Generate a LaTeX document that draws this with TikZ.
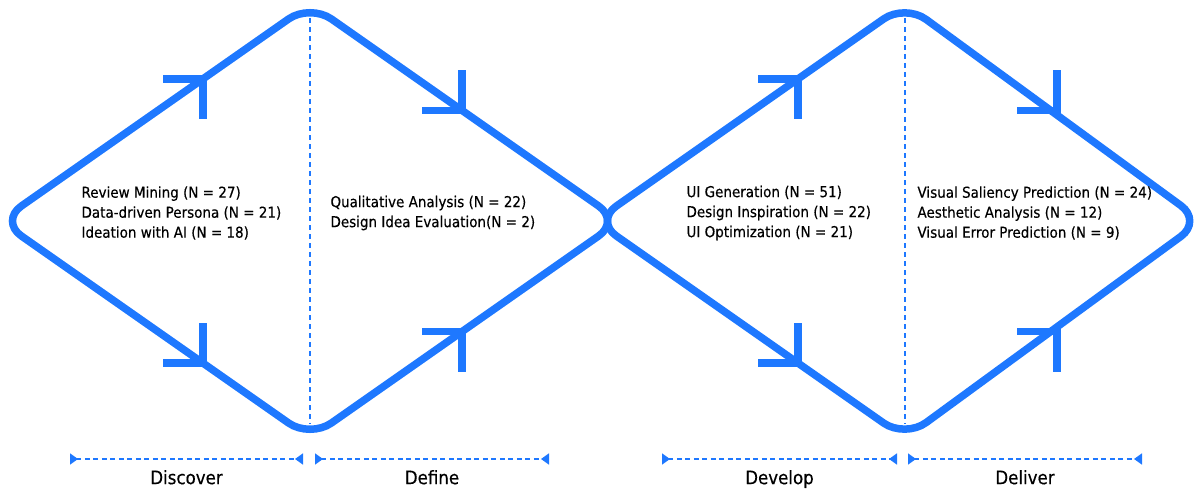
\documentclass[tikz,border=0pt]{standalone}
\usepackage{fontspec}
\setmainfont{DejaVu Sans}[FakeStretch=0.9, FakeBold=0.4]
\usetikzlibrary{arrows.meta,positioning,calc}
\definecolor{ddblue}{RGB}{30,120,255}
\tikzset{
every picture/.style={
line width=1pt
}}
\tikzset{
  outline/.style={draw=ddblue, line width=7.5pt, rounded corners=26pt},
  tick/.style={draw=ddblue, line width=7.5pt},
  midline/.style={draw=ddblue, line width=2pt, dash pattern=on 5pt off 4pt},
  span/.style={draw=ddblue, line width=1.5pt, dash pattern=on 5pt off 3.5pt,
    {Triangle[reversed,length=8pt,width=11pt]}-{Triangle[reversed,length=8pt,width=11pt]}},
  phase/.style={font=\fontsize{18.5}{20}\selectfont},
  topics/.style={align=left, anchor=west, inner sep=0pt, font=\fontsize{15}{20}\selectfont},
stage/.pic={
  \coordinate (-w) at (-310,0);
  \coordinate (-n) at (0,-217);
  \coordinate (-e) at (#1,0);
  \coordinate (-s) at (0,217);
  \draw[midline] (0,-203) -- (0,203);
  \draw[outline] (-155,-108.5) -- (-n) -- (-e) -- (-s) -- (-w) -- cycle;
  % half arrow heads on the four sides
  \draw[tick] (-147,-142) -- (-107,-142) -- (-107,-102);
  \draw[tick] (112,-110.5) -- (152,-110.5) -- (152,-150.5);
  \draw[tick] (-147,142) -- (-107,142) -- (-107,102);
  \draw[tick] (112,110.5) -- (152,110.5) -- (152,150.5);
  }
}
\begin{document}
\begin{tikzpicture}[x=1pt, y=-1pt]
  \useasboundingbox (0,0) rectangle (1195,495);

  \pic (left) at (310,221) {stage=310};
  \pic (right) at (905,221) {stage=297};

  \node[topics] (t1) at (81,213) {Review Mining (N = 27)\\Data-driven Persona (N = 21)\\Ideation with AI (N = 18)};
  \node[topics] (t2) at (330,213) {Qualitative Analysis (N = 22)\\Design Idea Evaluation(N = 2)};
  \node[topics] (t3) at (686,213) {UI Generation (N = 51)\\Design Inspiration (N = 22)\\UI Optimization (N = 21)};
  \node[topics] (t4) at (917,213) {Visual Saliency Prediction (N = 24)\\Aesthetic Analysis (N = 12)\\Visual Error Prediction (N = 9)};

  \coordinate (d0) at (70,459);
  \coordinate (d1) at (303,459);
  \coordinate (d2) at (315,459);
  \coordinate (d3) at (549,459);
  \coordinate (d4) at (662,459);
  \coordinate (d5) at (897,459);
  \coordinate (d6) at (908,459);
  \coordinate (d7) at (1142,459);

  \draw[span] (d0) -- (d1) node[phase, midway, below=7pt] (discover) {Discover};
  \draw[span] (d2) -- (d3) node[phase, midway, below=7pt] (define) {Define};
  \draw[span] (d4) -- (d5) node[phase, midway, below=7pt] (develop) {Develop};
  \draw[span] (d6) -- (d7) node[phase, midway, below=7pt] (deliver) {Deliver};
\end{tikzpicture}
\end{document}
